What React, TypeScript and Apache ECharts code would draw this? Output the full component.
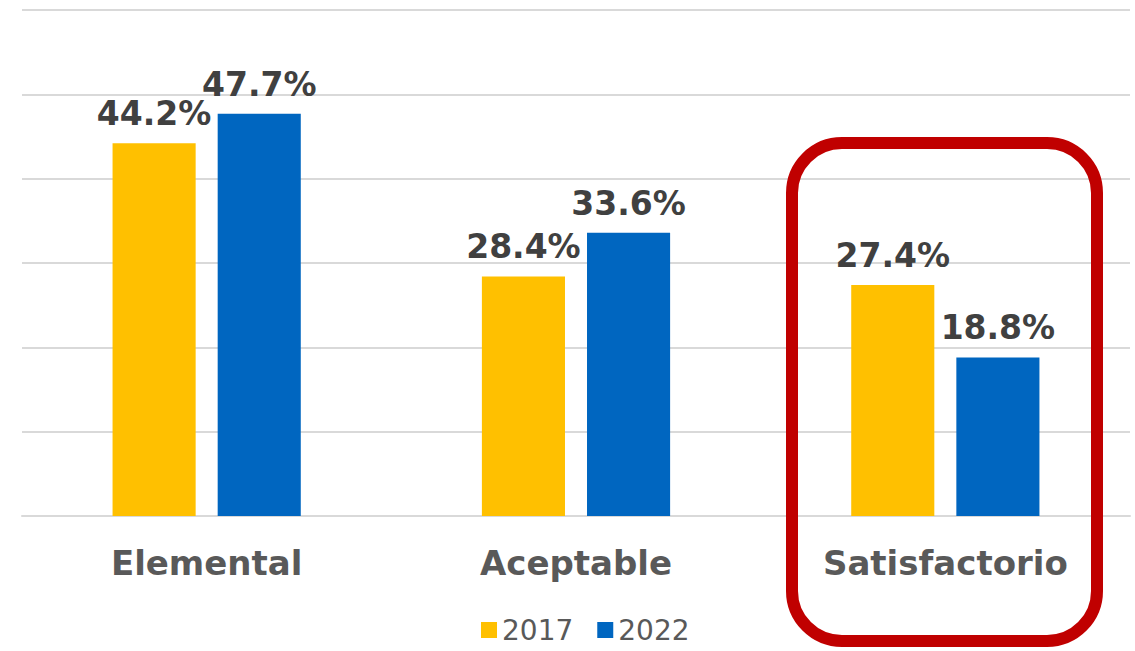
import React, { useEffect, useRef } from "react";
import * as echarts from "echarts";

const categories = ["Elemental", "Aceptable", "Satisfactorio"];
const seriesNames = ["2017", "2022"];
const values2017 = [44.2, 28.4, 27.4];
const values2022 = [47.7, 33.6, 18.8];
const colors = ["#FFC000", "#0066C0"];

export default function App() {
  const ref = useRef<HTMLDivElement>(null);
  useEffect(() => {
    document.body.style.margin = "0";
    const chart = echarts.init(ref.current!, null, { renderer: "svg" });
    const font = "'DejaVu Sans', sans-serif";
    const label = {
      show: true,
      position: "top" as const,
      distance: 13,
      formatter: (p: any) => p.value.toFixed(1) + "%",
      color: "#404040",
      fontFamily: font,
      fontWeight: "bold" as const,
      fontSize: 33,
    };
    chart.setOption({
      animation: false,
      grid: { left: 22, right: 5, top: 10, bottom: 135, containLabel: false },
      legend: {
        data: seriesNames,
        top: 611,
        left: 476,
        itemWidth: 16,
        itemHeight: 16,
        itemGap: 24,
        icon: "rect",
        textStyle: { color: "#595959", fontFamily: font, fontSize: 28 },
      },
      xAxis: {
        type: "category",
        data: categories,
        axisLine: { lineStyle: { color: "#D9D9D9", width: 2 } },
        axisTick: { show: false },
        axisLabel: {
          margin: 30,
          color: "#595959",
          fontFamily: font,
          fontWeight: "bold",
          fontSize: 34,
        },
      },
      yAxis: {
        type: "value",
        min: 0,
        max: 60,
        interval: 10,
        axisLabel: { show: false },
        axisLine: { show: false },
        axisTick: { show: false },
        splitLine: { lineStyle: { color: "#D9D9D9", width: 2 } },
      },
      series: [
        {
          name: seriesNames[0],
          type: "bar",
          data: values2017,
          barWidth: "22.5%",
          barGap: "26.5%",
          itemStyle: { color: colors[0] },
          label,
        },
        {
          name: seriesNames[1],
          type: "bar",
          data: values2022,
          barWidth: "22.5%",
          itemStyle: { color: colors[1] },
          label,
        },
      ],
      graphic: [
        {
          type: "rect",
          z: 100,
          shape: { x: 792, y: 143, width: 305, height: 498, r: 50 },
          style: { fill: "none", stroke: "#C00000", lineWidth: 12 },
        },
      ],
    });
    return () => chart.dispose();
  }, []);
  return <div ref={ref} style={{ width: 1135, height: 651 }} />;
}
